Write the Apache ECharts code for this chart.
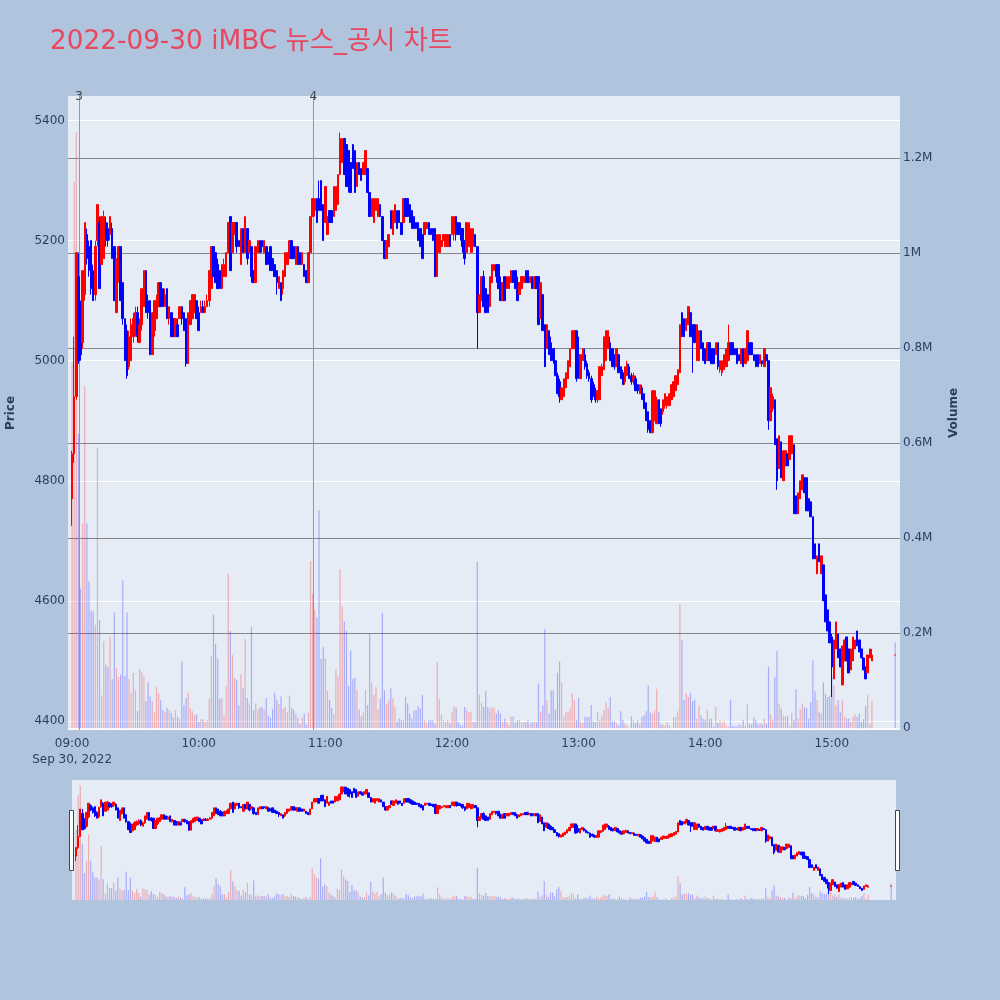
<!DOCTYPE html>
<html>
<head>
<meta charset="utf-8">
<script src="https://cdn.jsdelivr.net/npm/echarts@6/dist/echarts.min.js"></script>
<style>
html,body{margin:0;padding:0;background:#B0C4DE;}
#chart{width:1000px;height:1000px;}
</style>
</head>
<body>
<div id="chart"></div>
<script>
// ---------------- data ----------------
const chartTitle = '2022-09-30 iMBC 뉴스_공시 차트';
const dateLabel = 'Sep 30, 2022';
const sessionStart = '09:00';          // first one-minute candle; candles follow minute by minute
const timeTicks = ['09:00','10:00','11:00','12:00','13:00','14:00','15:00'];
const priceTicks = [4400,4600,4800,5000,5200,5400];
const volumeTicksK = [0,200,400,600,800,1000,1200];
const volumeTickLabels = ['0','0.2M','0.4M','0.6M','0.8M','1M','1.2M'];
const newsMarks = [{label:'3', time:'09:03:15'}, {label:'4', time:'10:54:20'}];

const opens = [
4770,4845,4940,5140,5090,5030,5110,5210,5190,5200,
5150,5110,5200,5230,5160,5170,5230,5220,5210,5220,
5190,5080,5140,5190,5130,5070,5050,4990,5000,5040,
5050,5080,5030,5060,5090,5150,5100,5100,5010,5050,
5070,5090,5130,5120,5090,5120,5070,5080,5070,5040,
5060,5070,5090,5080,5070,4995,5060,5070,5080,5100,
5080,5080,5090,5080,5090,5100,5120,5190,5180,5160,
5150,5120,5140,5140,5180,5240,5180,5210,5230,5200,
5160,5220,5180,5220,5180,5190,5150,5130,5180,5200,
5200,5180,5190,5180,5190,5170,5160,5150,5120,5130,
5120,5140,5160,5170,5200,5190,5160,5190,5180,5160,
5160,5150,5130,5180,5240,5250,5270,5270,5300,5260,
5230,5210,5250,5250,5240,5250,5260,5310,5330,5370,
5360,5350,5330,5360,5350,5290,5330,5320,5310,5310,
5320,5280,5240,5230,5250,5240,5260,5240,5200,5170,
5190,5250,5210,5230,5250,5250,5230,5230,5270,5270,
5260,5250,5240,5230,5230,5220,5210,5210,5220,5230,
5220,5220,5220,5140,5180,5190,5200,5190,5190,5210,
5210,5210,5240,5230,5220,5220,5200,5180,5190,5180,
5190,5210,5190,5080,5100,5140,5120,5110,5090,5130,
5150,5160,5160,5130,5100,5140,5120,5120,5130,5150,
5150,5130,5110,5120,5130,5150,5150,5130,5140,5120,
5140,5140,5070,5110,5060,5020,5050,5030,5020,5000,
4975,4965,4935,4940,4955,4970,4990,5020,5020,5050,
5010,4970,5000,5010,4995,4980,4970,4960,4950,4935,
4935,4975,4985,5000,5020,5030,5020,5010,4990,5010,
4990,4980,4965,4975,4990,4975,4965,4970,4960,4945,
4955,4945,4930,4915,4900,4880,4900,4895,4935,4920,
4915,4925,4925,4925,4935,4940,4950,4960,4980,5080,
5070,5050,5060,5080,5060,5060,5000,5000,5050,5030,
5020,5000,5030,5020,5020,5010,5030,4985,4980,4985,
4990,5000,5030,5030,5020,5020,5010,4995,5020,4995,
5000,5030,5030,5010,5010,5010,4995,5000,4990,5010,
5000,4900,4920,4935,4870,4820,4865,4800,4825,4845,
4835,4845,4860,4775,4745,4770,4785,4805,4805,4770,
4765,4740,4695,4645,4695,4645,4660,4610,4585,4565,
4540,4470,4520,4545,4520,4460,4500,4540,4520,4485,
4500,4520,4550,4535,4520,4505,4490,4480,4505,4500
];
const closes = [
4845,4940,5180,5000,5010,5150,5230,5170,5150,5120,
5100,5190,5260,5120,5240,5240,5200,5200,5240,5170,
5100,5170,5190,5100,5070,5000,4975,5040,5060,5070,
5080,5040,5060,5120,5150,5080,5080,5010,5080,5100,
5100,5130,5090,5090,5110,5070,5090,5040,5040,5070,
5040,5090,5070,5050,4995,5080,5100,5110,5110,5070,
5050,5090,5080,5090,5100,5150,5190,5140,5130,5120,
5120,5160,5160,5180,5230,5150,5230,5230,5190,5190,
5220,5180,5240,5170,5200,5140,5130,5190,5200,5180,
5190,5200,5160,5170,5150,5150,5140,5130,5140,5100,
5150,5180,5180,5200,5170,5170,5190,5160,5160,5180,
5140,5130,5180,5240,5270,5270,5230,5250,5250,5200,
5290,5240,5230,5230,5290,5290,5310,5370,5370,5310,
5290,5310,5280,5320,5280,5330,5310,5300,5330,5350,
5280,5240,5270,5270,5270,5270,5240,5200,5170,5200,
5210,5220,5250,5260,5220,5230,5210,5270,5240,5240,
5230,5220,5220,5220,5200,5190,5170,5230,5230,5210,
5210,5200,5140,5210,5210,5200,5210,5210,5210,5190,
5240,5240,5210,5210,5210,5190,5170,5230,5230,5220,
5220,5190,5080,5110,5140,5090,5080,5080,5140,5160,
5160,5140,5120,5100,5130,5100,5140,5140,5150,5130,
5120,5100,5130,5140,5140,5130,5130,5140,5120,5140,
5120,5060,5130,5050,4990,5060,5010,5000,5000,4975,
4945,4940,4955,4970,4980,5000,5020,5050,5050,4970,
4980,5010,5020,4990,4975,4970,4935,4945,4935,4950,
4990,4990,5040,5050,5050,5000,4990,4990,5020,4980,
4970,4960,4990,4995,4970,4965,4975,4950,4950,4960,
4935,4920,4900,4885,4880,4950,4950,4935,4895,4895,
4935,4945,4940,4945,4960,4965,4975,4985,5060,5040,
5040,5070,5090,5040,5040,5030,5060,5050,5020,5000,
4995,5030,5000,4995,4995,5030,4990,5000,5000,5010,
5020,5030,5010,5010,5010,4995,5000,5020,4990,5020,
5050,5010,5010,5000,4990,4990,5010,4995,5020,5000,
4900,4955,4940,4860,4800,4875,4805,4850,4850,4825,
4875,4875,4745,4745,4780,4800,4810,4780,4750,4750,
4740,4670,4670,4675,4665,4675,4600,4565,4550,4530,
4490,4535,4565,4505,4490,4525,4535,4500,4480,4520,
4540,4535,4525,4515,4505,4485,4470,4510,4520,4510
];
const lows = [
4725,4830,4935,4995,5000,5020,5100,5160,5140,5110,
5100,5100,5190,5120,5160,5170,5190,5190,5200,5170,
5100,5080,5130,5100,5060,5000,4970,4985,5000,5030,
5040,5030,5030,5050,5090,5080,5070,5010,5010,5040,
5070,5090,5090,5090,5090,5070,5060,5040,5040,5040,
5040,5070,5060,5050,4990,4995,5060,5070,5080,5070,
5050,5080,5080,5080,5090,5090,5120,5140,5130,5120,
5120,5120,5140,5140,5180,5150,5180,5210,5180,5190,
5160,5180,5180,5160,5180,5130,5130,5130,5180,5180,
5180,5180,5160,5160,5150,5150,5140,5110,5120,5100,
5110,5140,5160,5170,5170,5170,5160,5160,5160,5160,
5140,5130,5130,5180,5240,5240,5230,5250,5250,5200,
5230,5210,5230,5230,5240,5250,5260,5310,5330,5310,
5290,5280,5280,5320,5280,5290,5310,5300,5310,5310,
5280,5240,5240,5230,5250,5240,5240,5200,5170,5170,
5190,5220,5210,5230,5220,5230,5210,5230,5240,5240,
5230,5220,5220,5220,5200,5190,5170,5210,5220,5210,
5210,5200,5140,5140,5180,5190,5200,5190,5190,5190,
5210,5200,5200,5210,5200,5180,5160,5180,5190,5180,
5180,5190,5020,5080,5100,5090,5080,5080,5090,5130,
5150,5130,5120,5100,5100,5100,5120,5120,5130,5130,
5120,5100,5110,5120,5130,5130,5130,5130,5120,5120,
5120,5060,5070,5050,4990,5020,5010,5000,4995,4975,
4945,4930,4935,4940,4955,4970,4990,5020,5020,4965,
4970,4970,5000,4985,4970,4965,4930,4940,4930,4930,
4935,4975,4985,5000,5020,5000,4990,4985,4990,4980,
4970,4960,4960,4975,4970,4960,4960,4950,4945,4945,
4935,4920,4900,4880,4880,4880,4900,4895,4895,4890,
4910,4920,4920,4925,4935,4940,4950,4960,4980,5040,
5040,5050,5060,5040,4980,5030,5000,5000,5020,5000,
4995,5000,5000,4995,4995,5010,4985,4980,4975,4985,
4990,5000,5010,5010,5010,4995,5000,4995,4990,4995,
5000,5010,5010,5000,4990,4990,4995,4990,4990,5000,
4885,4900,4915,4860,4785,4820,4805,4800,4825,4825,
4835,4845,4745,4745,4745,4770,4785,4780,4750,4750,
4740,4670,4670,4645,4665,4645,4600,4565,4550,4530,
4440,4470,4520,4505,4490,4460,4500,4500,4480,4485,
4500,4520,4525,4515,4505,4485,4470,4480,4505,4500
];
const highs = [
4850,5040,5180,5180,5100,5150,5230,5220,5200,5200,
5160,5200,5260,5240,5240,5250,5240,5230,5240,5230,
5190,5170,5190,5190,5130,5070,5060,5050,5070,5080,
5090,5090,5070,5120,5150,5150,5110,5100,5080,5100,
5110,5130,5130,5120,5120,5120,5090,5080,5070,5070,
5070,5090,5090,5080,5070,5080,5100,5110,5110,5100,
5090,5100,5100,5100,5110,5150,5190,5190,5180,5170,
5150,5160,5170,5180,5230,5240,5230,5230,5230,5200,
5220,5220,5240,5220,5200,5190,5150,5190,5200,5200,
5200,5200,5190,5180,5190,5170,5160,5150,5140,5130,
5150,5180,5180,5200,5200,5190,5190,5190,5180,5180,
5160,5150,5180,5240,5270,5270,5270,5300,5300,5260,
5290,5240,5250,5250,5290,5290,5310,5380,5370,5370,
5360,5350,5330,5360,5350,5330,5330,5320,5330,5350,
5320,5280,5270,5270,5270,5270,5260,5240,5200,5200,
5210,5250,5250,5260,5250,5250,5230,5270,5270,5270,
5260,5250,5240,5230,5230,5220,5210,5230,5230,5230,
5220,5220,5220,5210,5210,5200,5210,5210,5210,5210,
5240,5240,5240,5230,5230,5220,5200,5230,5230,5220,
5220,5210,5190,5110,5140,5150,5120,5110,5140,5160,
5160,5160,5160,5140,5130,5140,5140,5140,5150,5150,
5150,5140,5130,5140,5140,5150,5150,5140,5140,5140,
5140,5140,5130,5110,5060,5060,5050,5040,5020,5000,
4980,4970,4955,4970,4980,5000,5020,5050,5050,5050,
5040,5010,5020,5020,5000,4985,4975,4965,4955,4950,
4990,4995,5040,5050,5050,5040,5020,5010,5020,5010,
4990,4985,4990,5000,4995,4980,4980,4975,4960,4960,
4960,4945,4930,4915,4900,4950,4950,4940,4935,4920,
4935,4945,4940,4945,4960,4965,4975,4985,5060,5080,
5070,5070,5090,5080,5060,5060,5060,5050,5050,5030,
5020,5030,5030,5020,5020,5030,5030,5000,5000,5010,
5020,5060,5030,5030,5020,5020,5010,5020,5020,5020,
5050,5030,5030,5010,5010,5010,5010,5000,5020,5010,
5000,4955,4945,4935,4870,4875,4865,4850,4850,4845,
4875,4875,4860,4775,4780,4800,4810,4805,4805,4770,
4765,4740,4695,4675,4695,4675,4660,4610,4585,4565,
4545,4535,4565,4545,4520,4525,4535,4540,4520,4520,
4540,4535,4550,4535,4520,4505,4490,4510,4520,4520
];
// traded volume per minute, in thousands of shares
const volumesK = [
770,1150,1255,620,294,431,720,431,309,248,
246,218,590,228,69,184,134,129,193,103,
244,127,108,113,311,110,244,104,75,117,
80,36,125,118,110,57,97,67,57,33,
88,74,59,39,33,43,39,32,23,38,
24,20,141,48,64,75,42,36,29,29,
13,19,19,13,17,62,151,239,178,147,
62,64,27,88,325,205,154,106,102,48,
114,84,188,64,52,214,38,52,39,44,
45,40,64,27,22,41,75,60,51,67,
41,45,34,69,43,39,31,22,9,22,
31,8,33,352,283,250,234,459,146,171,
147,79,60,43,30,124,109,335,257,225,
205,89,164,103,106,81,39,25,34,81,
49,199,96,70,87,40,62,243,80,52,
59,84,63,45,15,20,18,18,66,52,
31,20,38,38,47,41,71,17,11,17,
17,17,10,139,61,29,17,13,18,11,
35,46,44,13,8,6,45,38,34,34,
13,13,350,71,53,46,78,45,41,45,
43,31,38,31,13,20,13,8,25,25,
11,17,17,12,13,13,17,10,13,13,
13,94,33,48,209,59,31,80,80,39,
117,141,97,25,34,34,41,74,59,17,
64,13,11,24,24,24,49,15,13,34,
17,27,38,55,42,66,14,15,10,6,
36,18,10,6,1,25,17,11,17,10,
24,27,36,90,33,31,38,83,33,8,
8,6,13,6,1,24,24,36,262,185,
59,74,66,75,57,60,20,48,27,20,
18,39,20,20,4,45,11,17,10,15,
6,3,60,5,4,4,8,6,18,6,
50,10,8,22,17,8,11,8,20,10,
129,29,17,108,164,52,41,27,25,25,
6,33,17,82,20,40,52,45,43,20,
55,143,78,59,34,31,97,73,66,69,
111,90,48,59,34,60,24,20,20,13,
24,29,24,31,13,19,47,71,10,57
];
// closing single-price auction
const auction = {time:'15:30', open:4510, close:4510, low:4510, high:4510, volumeK:181};

// ---------------- build ----------------
[opens, closes, lows, highs, volumesK].forEach((a, k) => {
  if (a.length !== opens.length) throw new Error('array length mismatch ' + k + ': ' + a.length);
});
function toMin(t) {
  const p = t.split(':').map(Number);
  const s = sessionStart.split(':').map(Number);
  return (p[0] * 60 + p[1] + (p[2] || 0) / 60) - (s[0] * 60 + s[1]);
}
const UP = '#ff0000', DOWN = '#0000ff';
const UPV = 'rgba(255,0,0,0.27)', DOWNV = 'rgba(0,0,255,0.27)';
const NEWS_LINE = '#7a96f2';
const candleData = opens.map((o, i) => [i, o, closes[i], lows[i], highs[i]]);
candleData.push([toMin(auction.time), auction.open, auction.close, auction.low, auction.high]);
const volData = volumesK.map((v, i) => ({value: [i, v], itemStyle: {color: closes[i] > opens[i] ? UPV : DOWNV}}));
volData.push({value: [toMin(auction.time), auction.volumeK], itemStyle: {color: auction.close > auction.open ? UPV : DOWNV}});

const X_MIN = -1.94, X_MAX = 392.3;
const FONT = '"DejaVu Sans", "Noto Sans CJK KR", sans-serif';
const AXIS_COLOR = '#2a3f5f';

const chart = echarts.init(document.getElementById('chart'), null, {renderer: 'canvas'});
const option = {
  animation: false,
  backgroundColor: '#B0C4DE',
  textStyle: {fontFamily: FONT},
  title: {
    text: chartTitle, left: 50, top: 29, padding: 0,
    textStyle: {color: '#E8485F', fontSize: 26.3, fontWeight: 'normal', fontFamily: FONT}
  },
  grid: [
    {left: 68, top: 96, width: 832, height: 634, show: true, backgroundColor: '#E5ECF6', borderWidth: 0,
     containLabel: false, outerBoundsMode: 'none'},
    {left: 72, top: 780, width: 824, height: 120, show: true, backgroundColor: '#E5ECF6', borderWidth: 0,
     containLabel: false, outerBoundsMode: 'none'}
  ],
  xAxis: [
    {
      type: 'value', gridIndex: 0, min: X_MIN, max: X_MAX,
      axisLine: {show: false}, axisTick: {show: false}, splitLine: {show: false},
      axisLabel: {
        customValues: timeTicks.map(toMin),
        formatter: v => {
          const i = timeTicks.map(toMin).findIndex(t => Math.abs(t - v) < 0.01);
          const s = i >= 0 ? timeTicks[i] : '';
          return i === 0 ? s + '\n' + dateLabel : s;
        },
        color: AXIS_COLOR, fontSize: 12, margin: 6, lineHeight: 16, fontFamily: FONT
      }
    },
    {type: 'value', gridIndex: 1, min: X_MIN, max: X_MAX, show: false}
  ],
  yAxis: [
    {
      type: 'value', gridIndex: 0, position: 'left', min: 4385, max: 5440.8,
      axisLine: {show: false}, axisTick: {show: false}, splitLine: {show: false},
      axisLabel: {customValues: priceTicks, formatter: v => String(Math.round(v)),
                  color: AXIS_COLOR, fontSize: 12, margin: 3, fontFamily: FONT},
      name: 'Price', nameLocation: 'middle', nameGap: 51,
      nameTextStyle: {color: AXIS_COLOR, fontSize: 12, fontWeight: 'bold', fontFamily: FONT}
    },
    {
      type: 'value', gridIndex: 0, position: 'right', min: -3.6, max: 1331.2,
      axisLine: {show: false}, axisTick: {show: false}, splitLine: {show: false},
      axisLabel: {
        customValues: volumeTicksK,
        formatter: v => volumeTickLabels[volumeTicksK.indexOf(Math.round(v))] || '',
        color: AXIS_COLOR, fontSize: 12, margin: 3, fontFamily: FONT
      },
      name: 'Volume', nameLocation: 'middle', nameGap: 48,
      nameTextStyle: {color: AXIS_COLOR, fontSize: 12, fontWeight: 'bold', fontFamily: FONT}
    },
    {type: 'value', gridIndex: 1, min: 4388, max: 5432, show: false},
    {type: 'value', gridIndex: 1, min: 0, max: 1316, show: false}
  ],
  series: [
    {
      name: 'volume', type: 'bar', xAxisIndex: 0, yAxisIndex: 1, z: 2,
      barWidth: 1.2, data: volData, silent: true,
      markLine: {
        silent: true, symbol: ['none', 'none'], z: 1, animation: false, label: {show: false},
        data: volumeTicksK.map(v => ({yAxis: v, lineStyle: v === 0
          ? {color: '#ffffff', width: 2, type: 'solid'}
          : {color: 'rgba(110,110,110,0.8)', width: 1, type: 'solid'}}))
      }
    },
    {
      name: 'price', type: 'candlestick', xAxisIndex: 0, yAxisIndex: 0, z: 3,
      barWidth: 2, data: candleData, silent: true,
      itemStyle: {color: UP, color0: DOWN, borderColor: UP, borderColor0: DOWN, borderWidth: 1},
      markLine: {
        silent: true, symbol: ['none', 'none'], z: 1, animation: false, label: {show: false},
        data: priceTicks.map(p => ({yAxis: p, lineStyle: {color: '#ffffff', width: 1, type: 'solid', opacity: 1}}))
      }
    },
    {
      name: 'news', type: 'line', xAxisIndex: 0, yAxisIndex: 0, z: 2,
      data: [], silent: true, color: NEWS_LINE, itemStyle: {color: NEWS_LINE}, lineStyle: {color: NEWS_LINE},
      markLine: {
        silent: true, symbol: ['none', 'none'], z: 2, animation: false, label: {show: false},
        lineStyle: {color: NEWS_LINE, width: 1, type: 'solid', opacity: 1},
        data: newsMarks.map(n => ({xAxis: toMin(n.time)}))
      },
      markPoint: {
        silent: true, symbol: 'rect', symbolSize: 1, itemStyle: {color: 'rgba(0,0,0,0)'},
        label: {show: true, position: 'inside', color: '#444', fontSize: 12, fontFamily: FONT, formatter: p => p.name},
        data: newsMarks.map(n => ({name: n.label, coord: [toMin(n.time), 5439]}))
      }
    },
    {
      name: 'volume-mini', type: 'bar', xAxisIndex: 1, yAxisIndex: 3, z: 2,
      barWidth: 1.2, data: volData, silent: true
    },
    {
      name: 'price-mini', type: 'candlestick', xAxisIndex: 1, yAxisIndex: 2, z: 3,
      barWidth: 2, data: candleData, silent: true,
      itemStyle: {color: UP, color0: DOWN, borderColor: UP, borderColor0: DOWN, borderWidth: 1}
    }
  ],
  graphic: [
    {type: 'rect', shape: {x: 69.5, y: 810.5, width: 4, height: 60}, style: {fill: '#ffffff', stroke: '#444444', lineWidth: 1}, z: 10},
    {type: 'rect', shape: {x: 895.5, y: 810.5, width: 4, height: 60}, style: {fill: '#ffffff', stroke: '#444444', lineWidth: 1}, z: 10}
  ]
};
chart.setOption(option);
</script>
</body>
</html>
